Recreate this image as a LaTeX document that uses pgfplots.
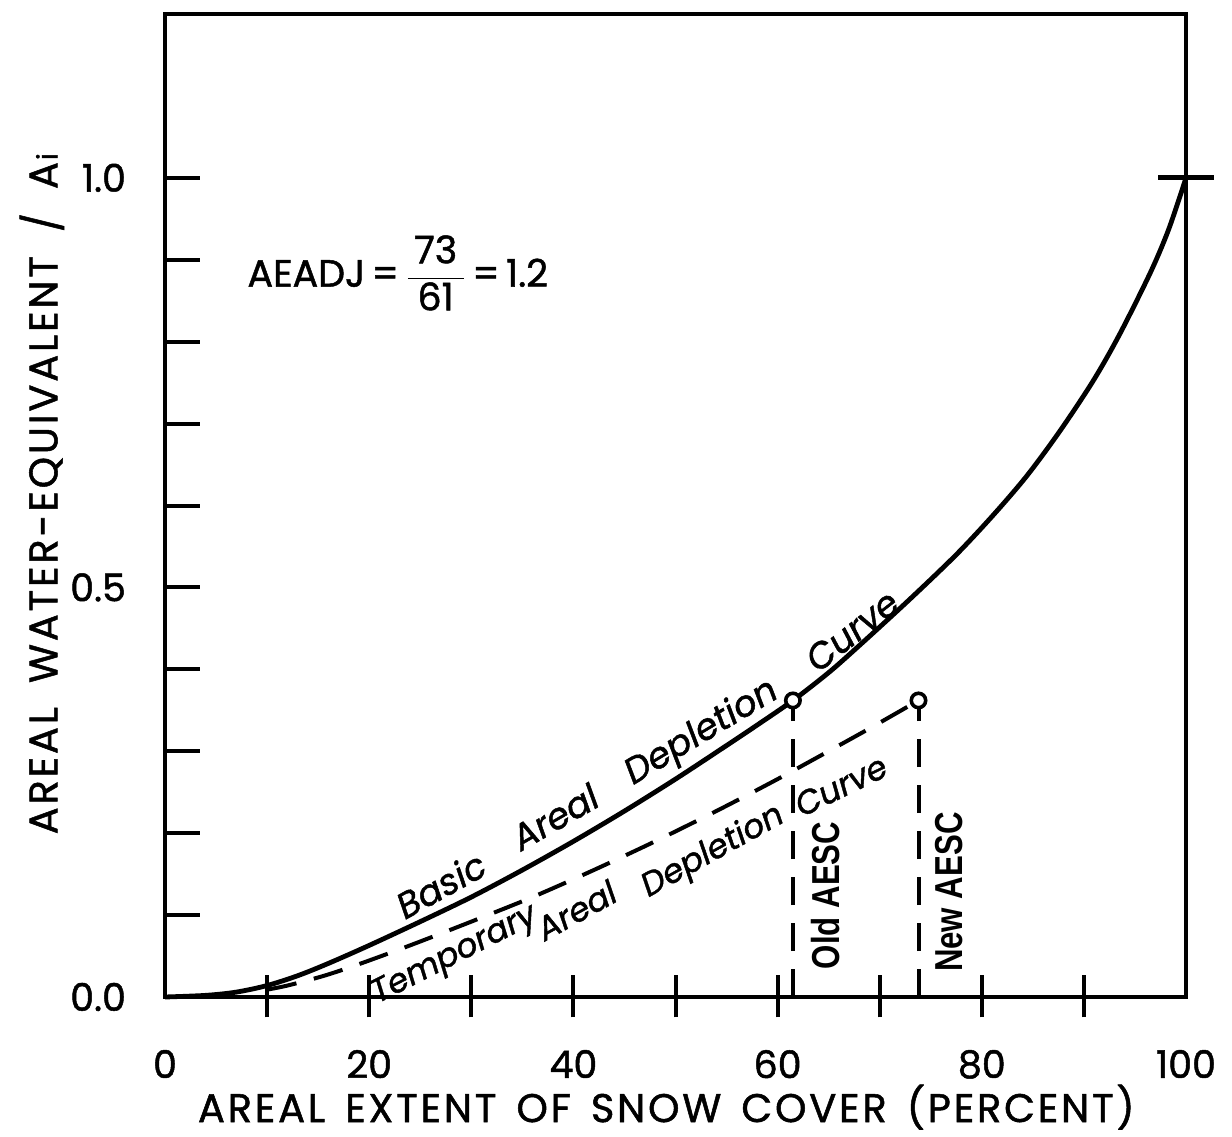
\documentclass[border=0pt]{standalone}
\usepackage{pgfplots}
\pgfplotsset{compat=1.18}
\usepackage{fontspec}
\setmainfont{Poppins}[FakeBold=1.3]
\newfontfamily\lblfont[LetterSpace=7,FakeBold=1.3]{Poppins}
\newfontfamily\cond[FakeStretch=0.8]{Liberation Sans}
\begin{document}
\begin{tikzpicture}
\begin{axis}[
  at={(0pt,0pt)}, anchor=south west,
  scale only axis, width=510.5pt, height=491.5pt,
  xmin=0, xmax=100, ymin=0, ymax=1.2,
  clip=false,
  axis line style={line width=2.4pt},
  major tick length=0pt,
  xtick={0,20,40,60,80,100},
  xticklabels={0,20,40,60,80,100},
  ytick={0,0.5,1},
  yticklabels={0.0,0.5,1.0},
  tick label style={font=\fontsize{19}{19}\selectfont},
  xticklabel style={yshift=-23pt},
  yticklabel style={xshift=-16pt},
]
% ticks
\pgfplotsinvokeforeach{10,20,30,40,50,60,70,80,90}{
  \draw[line width=2pt] (axis cs:#1,-0.025) -- (axis cs:#1,0.027);
}
\pgfplotsinvokeforeach{0.1,0.2,0.3,0.4,0.5,0.6,0.7,0.8,0.9,1.0}{
  \draw[line width=2pt] (axis cs:0,#1) -- (axis cs:3.4,#1);
}
\draw[line width=2.4pt] (axis cs:97.3,1) -- (axis cs:102.7,1);

% basic areal depletion curve
\addplot[line width=2.4pt, smooth] coordinates {
(0,0) (4,0.002) (7,0.006) (10,0.014) (13,0.026) (16,0.041) (20,0.063) (25,0.092)
(30,0.122) (35,0.155) (40,0.19) (45,0.227) (50,0.266) (55,0.307) (58,0.332)
(61.5,0.362) (65,0.396) (68,0.429) (72.9,0.485) (77.5,0.54) (81.1,0.588)
(84.4,0.636) (87.6,0.69) (90.9,0.752) (93.5,0.809) (96.5,0.884) (98.3,0.937) (100,1.0)
};
% temporary areal depletion curve
\addplot[line width=2pt, smooth, dash pattern=on 15pt off 9pt] coordinates {
(10,0.009) (12,0.014) (15.6,0.026) (19.2,0.041) (24,0.063) (30,0.092) (36,0.122)
(42,0.155) (48,0.19) (54,0.227) (60,0.266) (66,0.307) (69.6,0.332) (73.8,0.362)
};
% vertical dashed lines
\addplot[line width=2pt, dash pattern=on 14pt off 9pt] coordinates {(61.5,0) (61.5,0.362)};
\addplot[line width=2pt, dash pattern=on 14pt off 9pt] coordinates {(73.8,0) (73.8,0.362)};
% circles
\addplot[only marks, mark=*, mark size=3.6pt, mark options={fill=white, draw=black, line width=1.8pt}]
  coordinates {(61.5,0.362) (73.8,0.362)};

% curve labels
\begin{scope}[every node/.style={font=\fontsize{18}{18}\selectfont\itshape, inner sep=1pt}]
\node[rotate=29] at (axis cs:27,0.137) {Basic};
\node[rotate=30] at (axis cs:38.2,0.22) {Areal};
\node[rotate=31] at (axis cs:52.6,0.322) {Depletion};
\node[rotate=38] at (axis cs:67.3,0.447) {Curve};
\end{scope}
\begin{scope}[every node/.style={font=\fontsize{16.5}{16.5}\selectfont\itshape, inner sep=1pt}]
\node[rotate=27] at (axis cs:28.4,0.05) {Temporary};
\node[rotate=29] at (axis cs:40.3,0.106) {Areal};
\node[rotate=29] at (axis cs:53.7,0.177) {Depletion};
\node[rotate=26] at (axis cs:66.2,0.258) {Curve};
\end{scope}
\node[rotate=90, font=\cond\bfseries\fontsize{19.5}{19.5}\selectfont] at (axis cs:64.7,0.124) {Old AESC};
\node[rotate=90, font=\cond\bfseries\fontsize{19.5}{19.5}\selectfont] at (axis cs:76.8,0.128) {New AESC};

\node[font=\fontsize{19}{19}\selectfont] at (axis cs:22.8,0.884)
  {AEADJ\,=\,${\displaystyle\frac{\mbox{\,73\,}}{\mbox{\,61\,}}}$\,=\,1.2};

\node[font=\lblfont\fontsize{20}{20}\selectfont] at (rel axis cs:0.491,-0.112)
  {AREAL\hspace{10pt}EXTENT\hspace{10pt}OF\hspace{10pt}SNOW\hspace{10pt}COVER\hspace{10pt}(PERCENT)};
\node[rotate=90, font=\lblfont\fontsize{20}{20}\selectfont] at (rel axis cs:-0.1205,0.512)
  {AREAL\hspace{12pt}WATER-EQUIVALENT\hspace{12pt}/\hspace{12pt}A\kern1pt{\fontsize{14}{14}\selectfont i}};
\end{axis}
\pgfresetboundingbox
\path[use as bounding box] (-82.5pt,-69.5pt) rectangle (533.5pt,498.5pt);
\end{tikzpicture}
\end{document}
